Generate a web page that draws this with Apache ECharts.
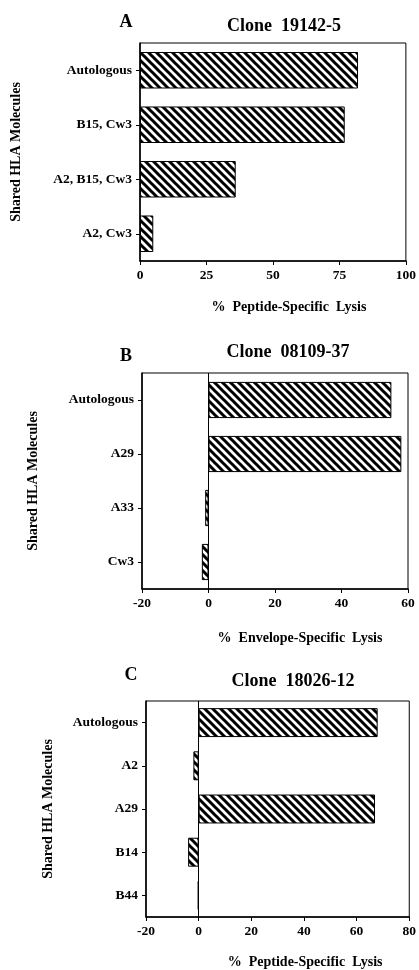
<!DOCTYPE html>
<html>
<head>
<meta charset="utf-8">
<script src="https://cdn.jsdelivr.net/npm/echarts@6/dist/echarts.min.js"></script>
<style>
  html, body { margin: 0; padding: 0; background: #fff; }
  #chart { width: 419px; height: 970px; }
</style>
</head>
<body>
<div id="chart"></div>
<script>
// panel A
const catsA = ['Autologous', 'B15, Cw3', 'A2, B15, Cw3', 'A2, Cw3']
const valsA = [82, 77, 36, 5]
const ticksA = { min: 0, max: 100, interval: 25 }

// panel B
const catsB = ['Autologous', 'A29', 'A33', 'Cw3']
const valsB = [55, 58, -1, -2]
const ticksB = { min: -20, max: 60, interval: 20 }

// panel C
const catsC = ['Autologous', 'A2', 'A29', 'B14', 'B44']
const valsC = [68, -2, 67, -4, -0.3]
const ticksC = { min: -20, max: 80, interval: 20 }

const font = '"Liberation Serif", "DejaVu Serif", serif'

const makeHatch = () => {
  const c = document.createElement('canvas')
  c.width = 8
  c.height = 8
  const g = c.getContext('2d')
  g.fillStyle = '#fff'
  g.fillRect(0, 0, 8, 8)
  g.strokeStyle = '#000'
  g.lineWidth = 3
  g.beginPath()
  g.moveTo(-2, -2); g.lineTo(10, 10)
  g.moveTo(-2, 6); g.lineTo(2, 10)
  g.moveTo(6, -2); g.lineTo(10, 2)
  g.stroke()
  return c
}
const hatch = { image: makeHatch(), repeat: 'repeat' }

const chart = echarts.init(document.getElementById('chart'))

const xAxisFor = (idx, t, name, nameGap, shift) => ({
  type: 'value',
  gridIndex: idx,
  min: t.min,
  max: t.max,
  interval: t.interval,
  name: name,
  nameLocation: 'middle',
  nameGap: nameGap,
  nameTextStyle: { fontFamily: font, fontWeight: 'bold', fontSize: 14, color: '#000', padding: [0, 0, 0, shift] },
  axisLine: { show: true, lineStyle: { color: '#000', width: 1.5 } },
  axisTick: { show: true, length: 4, lineStyle: { color: '#000' } },
  axisLabel: { fontFamily: font, fontWeight: 'bold', fontSize: 13.5, color: '#000', margin: 8 },
  splitLine: { show: false }
})

const yAxisFor = (idx, cats, nameGap) => ({
  type: 'category',
  gridIndex: idx,
  data: cats,
  inverse: true,
  name: 'Shared HLA Molecules',
  nameLocation: 'middle',
  nameRotate: 90,
  nameGap: nameGap,
  nameTextStyle: { fontFamily: font, fontWeight: 'bold', fontSize: 14, color: '#000' },
  axisLine: { show: true, onZero: false, lineStyle: { color: '#000', width: 1.5 } },
  axisTick: { show: true, alignWithLabel: true, length: 4, lineStyle: { color: '#000' } },
  axisLabel: { fontFamily: font, fontWeight: 'bold', fontSize: 13.5, color: '#000', margin: 8 }
})

const zeroLine = {
  silent: true,
  symbol: ['none', 'none'],
  label: { show: false },
  lineStyle: { color: '#000', type: 'solid', width: 1 },
  data: [{ xAxis: 0 }]
}

const seriesFor = (idx, vals, withZero) => ({
  type: 'bar',
  xAxisIndex: idx,
  yAxisIndex: idx,
  data: vals,
  barCategoryGap: '33%',
  itemStyle: { color: hatch, borderColor: '#000', borderWidth: 1 },
  markLine: withZero ? zeroLine : undefined
})

const titleFor = (text, left, top, size) => ({
  text: text,
  left: left,
  top: top,
  padding: 0,
  textAlign: 'center',
  textStyle: { fontFamily: font, fontWeight: 'bold', fontSize: size, color: '#000' }
})

const option = {
  animation: false,
  title: [
    titleFor('A', 126, 13, 18),
    titleFor('Clone  19142-5', 284, 17, 18),
    titleFor('B', 126, 347, 18),
    titleFor('Clone  08109-37', 288, 343, 18),
    titleFor('C', 131, 666, 18),
    titleFor('Clone  18026-12', 293, 672, 18)
  ],
  grid: [
    { left: 140, right: 12, top: 43, height: 218, show: true, borderColor: '#000', borderWidth: 1 },
    { left: 142, right: 11, top: 373, height: 216, show: true, borderColor: '#000', borderWidth: 1 },
    { left: 146, right: 6, top: 701, height: 217, show: true, borderColor: '#000', borderWidth: 1 }
  ],
  xAxis: [
    xAxisFor(0, ticksA, '%  Peptide-Specific  Lysis', 39, 32),
    xAxisFor(1, ticksB, '%  Envelope-Specific  Lysis', 42, 50),
    xAxisFor(2, ticksC, '%  Peptide-Specific  Lysis', 38, 55)
  ],
  yAxis: [
    yAxisFor(0, catsA, 117),
    yAxisFor(1, catsB, 102),
    yAxisFor(2, catsC, 91)
  ],
  series: [
    seriesFor(0, valsA, false),
    seriesFor(1, valsB, true),
    seriesFor(2, valsC, true)
  ]
}

chart.setOption(option)
</script>
</body>
</html>
